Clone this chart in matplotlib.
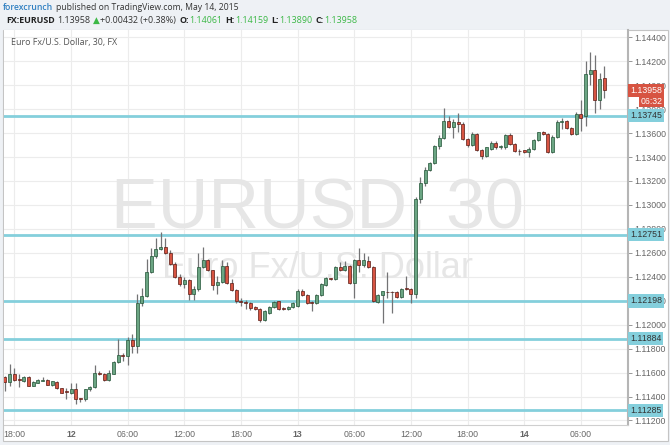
import numpy as np
import pandas as pd
import matplotlib
matplotlib.use("Agg")
import matplotlib.pyplot as plt
import matplotlib.transforms as mtransforms
from matplotlib.patches import Rectangle

# 30-minute EUR/USD candles
start_time = "2015-05-11 17:00"
opens = [1.1156, 1.1152, 1.1159, 1.1155, 1.1153, 1.1156, 1.1149, 1.1151, 1.1153, 1.1154,
         1.1150, 1.1152, 1.1147, 1.11442, 1.1143, 1.1146, 1.1139, 1.1138, 1.1146, 1.1148,
         1.1160, 1.1159, 1.1154, 1.1159, 1.1169, 1.1175, 1.1174, 1.1187, 1.1182, 1.1218,
         1.1224, 1.1244, 1.1257, 1.1263, 1.1265, 1.1260, 1.1251, 1.1240, 1.1234, 1.1237,
         1.1226, 1.1230, 1.1248, 1.1254, 1.1246, 1.1233, 1.1236, 1.1249, 1.1235, 1.1229,
         1.1220, 1.1219, 1.1218, 1.1215, 1.1213, 1.1204, 1.1210, 1.1215, 1.1220, 1.1214,
         1.1213, 1.1215, 1.1216, 1.1228, 1.1225, 1.1219, 1.1218, 1.1225, 1.1233, 1.1239,
         1.1238, 1.1248, 1.1246, 1.1249, 1.1235, 1.1254, 1.1250, 1.1253, 1.1248, 1.1219,
         1.1225, 1.12275, 1.12275, 1.1227, 1.1223, 1.12302, 1.1230, 1.1226, 1.1305, 1.1318,
         1.1329, 1.1335, 1.1349, 1.1356, 1.1370, 1.1365, 1.1369, 1.1368, 1.1355, 1.1350,
         1.1359, 1.1346, 1.1341, 1.1347, 1.1352, 1.1348, 1.1348, 1.1358, 1.1351, 1.13452,
         1.1346, 1.1344, 1.1347, 1.1354, 1.1361, 1.1359, 1.1344, 1.1357, 1.1369, 1.1370,
         1.1364, 1.1359, 1.1376, 1.1374, 1.1409, 1.1413, 1.1388, 1.14061]
highs = [1.1157, 1.1167, 1.1164, 1.1159, 1.1157, 1.1157, 1.1153, 1.1155, 1.1156, 1.1155,
         1.1153, 1.1153, 1.1147, 1.1147, 1.1151, 1.1151, 1.1139, 1.1146, 1.1149, 1.1166,
         1.1161, 1.1160, 1.1162, 1.1170, 1.1188, 1.1176, 1.1190, 1.1192, 1.1226, 1.1231,
         1.1255, 1.1264, 1.1272, 1.1277, 1.1272, 1.1262, 1.1252, 1.1242, 1.1240, 1.1238,
         1.1232, 1.1260, 1.1265, 1.1255, 1.1246, 1.1241, 1.1254, 1.1252, 1.1238, 1.1230,
         1.1222, 1.1221, 1.1219, 1.1216, 1.1214, 1.1212, 1.1216, 1.1220, 1.1220, 1.1215,
         1.1216, 1.1219, 1.1230, 1.1230, 1.1226, 1.1220, 1.1226, 1.1235, 1.1240, 1.1239,
         1.1249, 1.1252, 1.1253, 1.1250, 1.1255, 1.1264, 1.1260, 1.1257, 1.1249, 1.1226,
         1.1228, 1.1244, 1.1228, 1.1228, 1.1231, 1.1241, 1.1231, 1.1307, 1.1323, 1.1332,
         1.1336, 1.1350, 1.1358, 1.1381, 1.1374, 1.1372, 1.1377, 1.1369, 1.1356, 1.1361,
         1.1360, 1.1347, 1.1348, 1.1353, 1.1353, 1.1350, 1.1359, 1.1360, 1.1352, 1.1347,
         1.1346, 1.1348, 1.1355, 1.1361, 1.1362, 1.1360, 1.1358, 1.1371, 1.1373, 1.1371,
         1.1365, 1.1378, 1.1388, 1.1420, 1.1428, 1.1425, 1.1410, 1.14159]
lows = [1.1145, 1.1149, 1.1153, 1.1148, 1.1152, 1.1149, 1.1149, 1.1151, 1.1153, 1.1150,
        1.1149, 1.1146, 1.1143, 1.1138, 1.1142, 1.1134, 1.1135, 1.1136, 1.1145, 1.1147,
        1.1158, 1.1153, 1.1153, 1.1159, 1.1168, 1.1170, 1.1166, 1.1176, 1.1176, 1.1216,
        1.1223, 1.1243, 1.1256, 1.1262, 1.1259, 1.1250, 1.1239, 1.1232, 1.1231, 1.1221,
        1.1221, 1.1228, 1.1247, 1.1245, 1.1229, 1.1226, 1.1235, 1.1234, 1.1228, 1.1218,
        1.1216, 1.1213, 1.1212, 1.1212, 1.1202, 1.1203, 1.1209, 1.1214, 1.1212, 1.1212,
        1.1212, 1.1214, 1.1215, 1.1224, 1.1217, 1.1211, 1.1217, 1.1224, 1.1232, 1.1237,
        1.1237, 1.1245, 1.1245, 1.1234, 1.1222, 1.1244, 1.1248, 1.1247, 1.1219, 1.1218,
        1.1201, 1.1222, 1.1210, 1.1222, 1.1222, 1.1229, 1.1218, 1.1222, 1.1302, 1.1316,
        1.1328, 1.1334, 1.1347, 1.1355, 1.1364, 1.1356, 1.1361, 1.1354, 1.1348, 1.1349,
        1.1345, 1.1338, 1.1340, 1.1346, 1.1347, 1.1347, 1.1347, 1.1350, 1.1344, 1.1342,
        1.1343, 1.1340, 1.1346, 1.1353, 1.1358, 1.1343, 1.1343, 1.1356, 1.1363, 1.1363,
        1.1358, 1.1358, 1.1362, 1.1366, 1.1400, 1.1377, 1.1380, 1.13890]
closes = [1.1152, 1.1159, 1.1154, 1.1154, 1.1156, 1.1149, 1.1152, 1.1154, 1.1154, 1.1150,
          1.1153, 1.1147, 1.1143, 1.11438, 1.1146, 1.1138, 1.1138, 1.1146, 1.1148, 1.1160,
          1.1159, 1.1154, 1.1160, 1.1169, 1.1175, 1.1174, 1.1187, 1.1182, 1.1218, 1.1224,
          1.1244, 1.1257, 1.1263, 1.1265, 1.1260, 1.1251, 1.1240, 1.1234, 1.1237, 1.1226,
          1.1230, 1.1248, 1.1254, 1.1246, 1.1233, 1.1236, 1.1249, 1.1235, 1.1229, 1.1220,
          1.1219, 1.1218, 1.1214, 1.1213, 1.1204, 1.1211, 1.1215, 1.1219, 1.1213, 1.1213,
          1.1215, 1.1218, 1.1228, 1.1225, 1.1218, 1.1218, 1.1225, 1.1234, 1.1239, 1.1238,
          1.1248, 1.1246, 1.1249, 1.1235, 1.1254, 1.1250, 1.1254, 1.1248, 1.1220, 1.1225,
          1.1228, 1.12273, 1.12273, 1.1223, 1.1230, 1.12300, 1.1226, 1.1305, 1.1318, 1.1329,
          1.1335, 1.1349, 1.1356, 1.1370, 1.1365, 1.1369, 1.1368, 1.1355, 1.1350, 1.1359,
          1.1346, 1.1341, 1.1348, 1.1352, 1.1348, 1.1349, 1.1358, 1.1351, 1.1345, 1.13448,
          1.1344, 1.1347, 1.1354, 1.1361, 1.1359, 1.1344, 1.1357, 1.1369, 1.1370, 1.1364,
          1.1359, 1.1376, 1.1373, 1.1409, 1.1413, 1.1388, 1.1405, 1.13958]

levels = [1.13745, 1.12751, 1.12198, 1.11884, 1.11285]
price_ticks = [1.112, 1.114, 1.116, 1.118, 1.120, 1.122, 1.124, 1.126, 1.128,
               1.130, 1.132, 1.134, 1.136, 1.138, 1.140, 1.142, 1.144]
change = "+0.00432 (+0.38%)"
countdown = "06:32"

times = pd.date_range(start_time, periods=len(opens), freq="30min")

W, H = 670, 445
GREEN, GREEN_EDGE = "#6ba583", "#225437"
RED, RED_EDGE = "#d75442", "#5b1a13"
WICK = "#737375"
LEVEL = "#84cfdc"
UPTXT = "#3cb846"

plt.rcParams["font.family"] = ["Liberation Sans", "DejaVu Sans"]

fig = plt.figure(figsize=(W / 100, H / 100), dpi=100)
fig.patch.set_facecolor("#eef1f5")
renderer = fig.canvas.get_renderer()

# white chart panel
fig.add_artist(Rectangle((3 / W, 4 / H), 665 / W, 411 / H, transform=fig.transFigure,
                         facecolor="white", edgecolor="#c4c4c4", lw=0.8, zorder=0))

ax = fig.add_axes([4 / W, 20 / H, 624 / W, 395 / H])
ax.set_facecolor("white")

x = np.arange(len(opens))
o = np.array(opens)
c = np.array(closes)
up = c > o
body_h = np.maximum(np.abs(c - o), 0.000025)
body_b = np.minimum(o, c)

ax.vlines(x, lows, highs, color=WICK, lw=0.9, zorder=3)
ax.bar(x[up], body_h[up], bottom=body_b[up], width=0.64, color=GREEN,
       edgecolor=GREEN_EDGE, lw=0.5, zorder=4)
ax.bar(x[~up], body_h[~up], bottom=body_b[~up], width=0.64, color=RED,
       edgecolor=RED_EDGE, lw=0.5, zorder=4)

for lvl in levels:
    ax.axhline(lvl, color=LEVEL, lw=2, zorder=2)

ax.set_xlim(-0.2, 132.0)
ax.set_ylim(1.11162, 1.14461)

# time ticks every 6 hours
tick_idx = [i for i, t in enumerate(times) if t.minute == 0 and t.hour % 6 == 0]
tick_lab = [str(times[i].day) if times[i].hour == 0 else times[i].strftime("%H:%M")
            for i in tick_idx]
ax.set_xticks(tick_idx)
ax.set_xticklabels(tick_lab)
for i, lab in zip(tick_idx, ax.get_xticklabels()):
    if times[i].hour == 0:
        lab.set_fontweight("bold")
        lab.set_color("#333333")
ax.tick_params(axis="x", length=0, pad=3.5, labelsize=6.3, colors="#666666")

ax.yaxis.tick_right()
ax.set_yticks(price_ticks)
ax.set_yticklabels([f"{p:.5f}" for p in price_ticks])
ax.tick_params(axis="y", direction="out", length=3, width=0.6, pad=1.5,
               labelsize=6.3, colors="#666666", color="#888888")

ax.grid(color="#ececec", lw=0.8, zorder=0)
ax.set_axisbelow(True)
for side in ["left", "top"]:
    ax.spines[side].set_visible(False)
ax.spines["right"].set_color("#b5b5b5")
ax.spines["right"].set_linewidth(1.5)
ax.spines["bottom"].set_color("#cfcfcf")
ax.spines["bottom"].set_linewidth(0.8)

# watermark
ax.text(0.502, 0.498, "EURUSD, 30", transform=ax.transAxes, ha="center", va="baseline",
        fontsize=50.5, color="#e6e6e6", zorder=1)
ax.text(0.502, 0.371, "Euro Fx/U.S. Dollar", transform=ax.transAxes, ha="center",
        va="baseline", fontsize=26, color="#e6e6e6", zorder=1)

# right axis labels for levels and last price
trans = mtransforms.blended_transform_factory(ax.transAxes, ax.transData)
for lvl in levels:
    ax.text(1.003, lvl, f"{lvl:.5f}", transform=trans, ha="left", va="center",
            fontsize=6.3, color="#333333", clip_on=False, zorder=10,
            bbox=dict(boxstyle="square,pad=0.25", facecolor=LEVEL, edgecolor="none"))
last = closes[-1]
ax.text(1.003, last, f"{last:.5f}", transform=trans, ha="left", va="center",
        fontsize=6.3, color="white", clip_on=False, zorder=10,
        bbox=dict(boxstyle="square,pad=0.25", facecolor=RED, edgecolor="none"))
ax.text(1.055, last - 0.00092, countdown, transform=trans, ha="right", va="center",
        fontsize=6.3, color="white", clip_on=False, zorder=10,
        bbox=dict(boxstyle="square,pad=0.2", facecolor=RED, edgecolor="none"))


def text_row(segs, x0, y, x_end, family="Open Sans"):
    """Lay text pieces left to right, sized so the row ends at x_end (pixels)."""
    ref = 10.0
    widths = []
    for s, col, wt, fam, gap in segs:
        t = fig.text(0, 0, s, fontsize=ref, fontweight=wt, family=fam or family)
        widths.append(t.get_window_extent(renderer).width)
        t.remove()
    em = ref * 100 / 72
    total = sum(widths) + sum(g * em for *_, g in segs[:-1])
    size = ref * (x_end - x0) / total
    k = size / ref
    cur = x0
    for (s, col, wt, fam, gap), w in zip(segs, widths):
        fig.text(cur / W, 1 - y / H, s, fontsize=size, color=col, fontweight=wt,
                 family=fam or family, ha="left", va="center")
        cur += (w + gap * em) * k


# header line 1
text_row([("forexcrunch", "#2f7fc1", "semibold", None, 0.3),
          ("published on TradingView.com, May 14, 2015", "#333333", "normal", None, 0)],
         3, 7, 238)

# header line 2
row = [("FX:EURUSD", "#222222", "bold", None, 0.3),
       (f"{closes[-1]:.5f}", "#333333", "normal", None, 0.3),
       ("\u25B2", UPTXT, "normal", "DejaVu Sans", 0.1),
       (change, "#333333", "normal", None, 0.4)]
for key, val in [("O:", opens[-1]), ("H:", highs[-1]), ("L:", lows[-1]), ("C:", closes[-1])]:
    row.append((key, "#222222", "bold", None, 0.05))
    row.append((f"{val:.5f}", UPTXT, "normal", None, 0.4))
text_row(row, 6, 20.5, 357)

# symbol title inside chart
text_row([("Euro Fx/U.S. Dollar, 30, FX", "#555555", "normal", None, 0)], 11, 43, 118)

fig.savefig("out.png", dpi=100, facecolor=fig.get_facecolor())
